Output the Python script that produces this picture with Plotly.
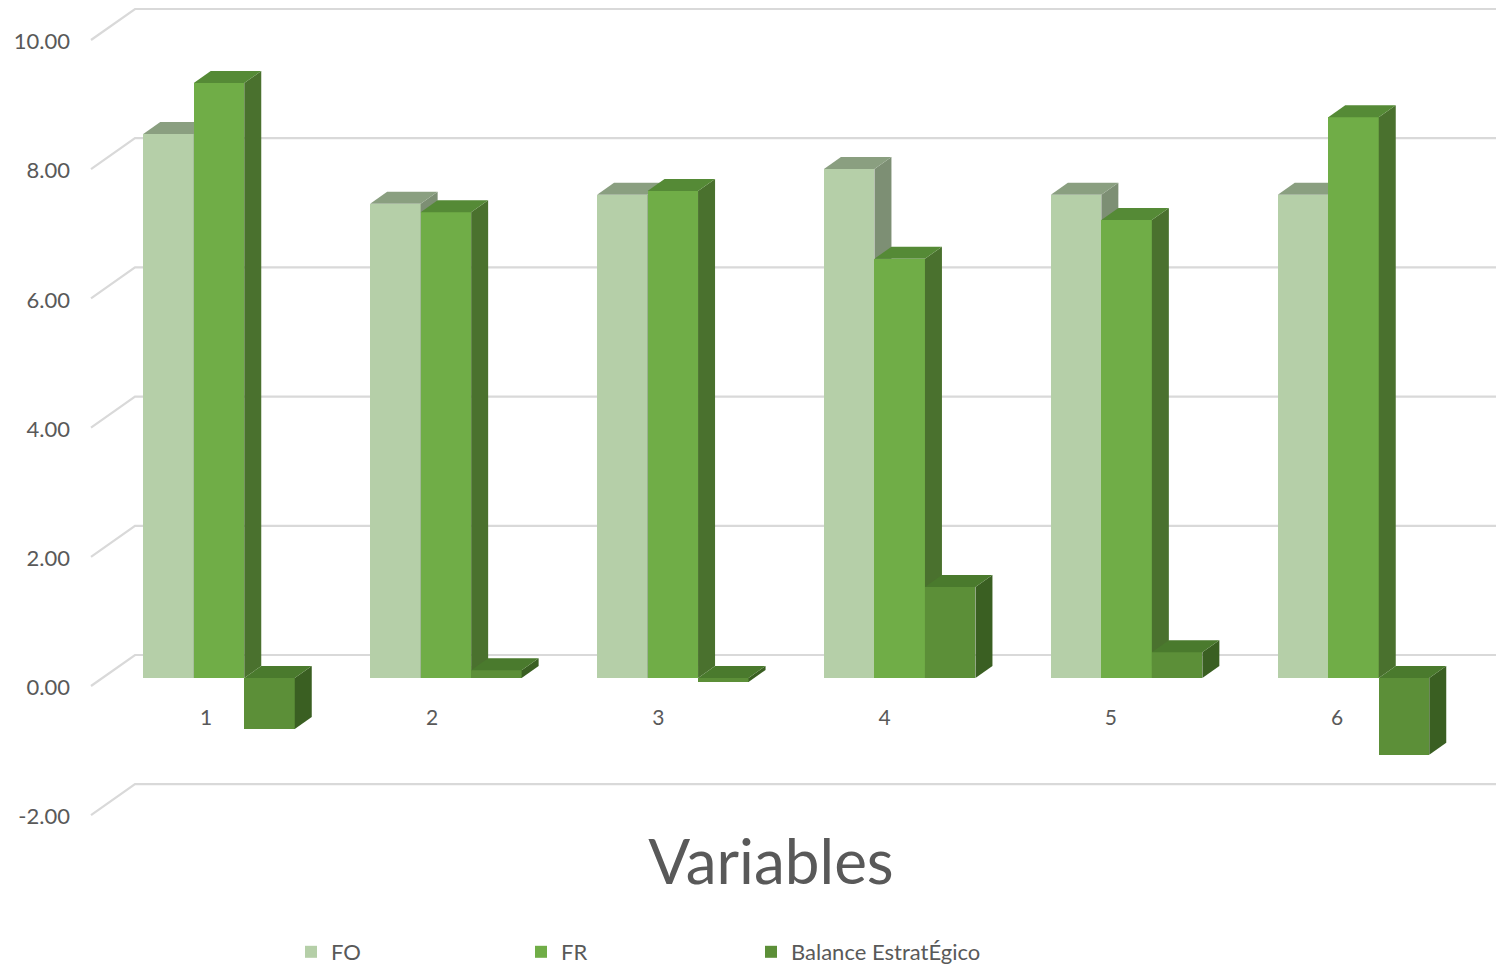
import plotly.graph_objects as go

categories = [1, 2, 3, 4, 5, 6]
fo = [8.42, 7.34, 7.48, 7.88, 7.48, 7.48]
fr = [9.21, 7.21, 7.54, 6.49, 7.09, 8.68]
balance = [-0.79, 0.12, -0.06, 1.41, 0.40, -1.19]
y_ticks = [-2, 0, 2, 4, 6, 8, 10]

W, H = 1496, 966
FONT = "Lato"
TEXT = "#595959"
GRID = "#d9d9d9"

# scales (pixels per data unit) and origins of the chart's 3-D projection
PX_Y = 64.6
PX_X = 226.9
BAR_W = 50.5 / PX_X
DEPTH_X = 17 / PX_X
DEPTH_Y = 12 / PX_Y
X_ORIGIN = 219      # pixel of category 1 (bar group centre)
Y_ORIGIN = 678      # pixel of value 0 on the bars' front plane
LABEL_X0, LABEL_STEP = 206, 226.2
TICK_Y0 = 687.5     # pixel of the tick label for value 0
WALL_SHIFT = 1.5 / PX_Y
WALL_DX0, WALL_DX1 = 91, 135
WALL_DY = 31 / PX_Y

bar_x_range = [(0 - X_ORIGIN) / PX_X + 1, (W - X_ORIGIN) / PX_X + 1]
bar_y_range = [(Y_ORIGIN - H) / PX_Y, Y_ORIGIN / PX_Y]
main_x_range = [1 - LABEL_X0 / LABEL_STEP, 1 + (W - LABEL_X0) / LABEL_STEP]
main_y_range = [(TICK_Y0 - H) / PX_Y, TICK_Y0 / PX_Y]


def main_x(px):
    return 1 + (px - LABEL_X0) / LABEL_STEP


series = [
    ("FO", fo, -BAR_W, "#b5cfa8", "#8a9f80", "#7d8f74", "x2", "y2"),
    ("FR", fr, 0.0, "#70ad47", "#558a36", "#4a712e", "x3", "y3"),
    ("Balance EstratÉgico", balance, BAR_W, "#5c8f38", "#4a7a2d", "#3a5f22", "x4", "y4"),
]

fig = go.Figure()

# wall and back-plane gridlines
for v in y_ticks:
    fig.add_trace(go.Scatter(
        x=[main_x(WALL_DX0), main_x(WALL_DX1), main_x(W)],
        y=[v + WALL_SHIFT, v + WALL_SHIFT + WALL_DY, v + WALL_SHIFT + WALL_DY],
        mode="lines", line=dict(color=GRID, width=2.2),
        hoverinfo="skip", showlegend=False, xaxis="x", yaxis="y",
    ))

for name, vals, off, front, top, side, xa, ya in series:
    xs = [c + off for c in categories]
    fig.add_trace(go.Bar(
        x=xs, y=vals, width=BAR_W, name=name,
        marker=dict(color=front, line=dict(width=0)),
        xaxis=xa, yaxis=ya, hoverinfo="x+y",
    ))
    for xc, v in zip(xs, vals):
        l, r = xc - BAR_W / 2, xc + BAR_W / 2
        hi, lo = max(v, 0), min(v, 0)
        fig.add_trace(go.Scatter(
            x=[r, r + DEPTH_X, r + DEPTH_X, r, r],
            y=[hi, hi + DEPTH_Y, lo + DEPTH_Y, lo, hi],
            fill="toself", fillcolor=side, mode="none",
            hoverinfo="skip", showlegend=False, xaxis=xa, yaxis=ya,
        ))
        fig.add_trace(go.Scatter(
            x=[l, l + DEPTH_X, r + DEPTH_X, r, l],
            y=[hi, hi + DEPTH_Y, hi + DEPTH_Y, hi, hi],
            fill="toself", fillcolor=top, mode="none",
            hoverinfo="skip", showlegend=False, xaxis=xa, yaxis=ya,
        ))

hidden = dict(visible=False, fixedrange=True)
layout_axes = {}
for i in (2, 3, 4):
    layout_axes[f"xaxis{i}"] = dict(range=bar_x_range, overlaying="x", **hidden)
    layout_axes[f"yaxis{i}"] = dict(range=bar_y_range, overlaying="y", **hidden)

fig.update_layout(
    width=W, height=H,
    margin=dict(l=0, r=0, t=0, b=0, autoexpand=False),
    paper_bgcolor="white", plot_bgcolor="white",
    font=dict(family=FONT, color=TEXT, size=21),
    xaxis=dict(
        range=main_x_range, domain=[0, 1], tickmode="array",
        tickvals=categories, ticktext=[str(c) for c in categories],
        showgrid=False, zeroline=False, showline=False, ticks="",
        anchor="free", position=1 - 703 / H, side="bottom",
        tickfont=dict(family=FONT, size=21, color=TEXT), fixedrange=True,
    ),
    yaxis=dict(
        range=main_y_range, domain=[0, 1], tickmode="array",
        tickvals=y_ticks, ticktext=[f"{v:.2f}" for v in y_ticks],
        showgrid=False, zeroline=False, showline=False, ticks="",
        anchor="free", position=70 / W, side="left",
        tickfont=dict(family=FONT, size=22, color=TEXT), fixedrange=True,
    ),
    title=dict(
        text="Variables", x=771 / W, xref="paper", xanchor="center",
        y=1 - 862 / H, yref="paper", yanchor="middle",
        font=dict(family=FONT, size=62, color=TEXT),
    ),
    legend=dict(
        orientation="h", x=291 / W, xanchor="left", y=1 - 952 / H, yanchor="middle",
        entrywidth=185, entrywidthmode="pixels",
        font=dict(family=FONT, size=22, color=TEXT),
        bgcolor="rgba(0,0,0,0)", traceorder="normal",
    ),
    bargap=0,
    showlegend=True,
    **layout_axes,
)

fig.write_html(
    "out.html",
    config={"displayModeBar": False},
    post_script="document.body.style.margin='0';",
)
